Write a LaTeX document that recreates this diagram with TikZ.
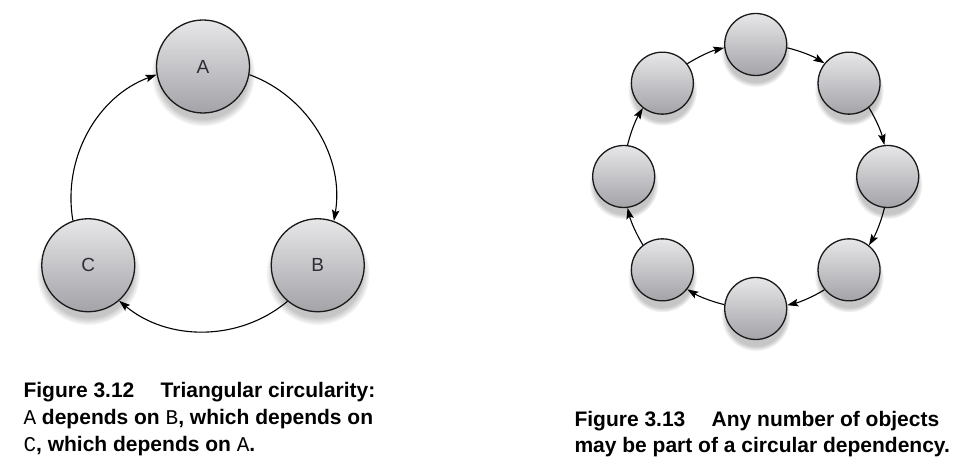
\documentclass[tikz,border=0pt]{standalone}
\usepackage{fontspec}
\setmainfont{Liberation Sans}
\newfontfamily\codefont{Liberation Mono}
\usepackage{tikz}
\usetikzlibrary{arrows.meta,calc,shadows}

\definecolor{balltop}{RGB}{231,231,233}
\definecolor{ballbottom}{RGB}{163,163,168}
\definecolor{balltext}{RGB}{45,45,55}

\tikzset{
  ball/.style={circle,draw=black!90,line width=1.3pt,inner sep=0pt,
    top color=balltop,bottom color=ballbottom,
    circular drop shadow={shadow xshift=0pt,shadow yshift=-7pt,shadow scale=1.12,opacity=.45},
    font=\fontsize{19}{19}\selectfont\color{balltext}},
  bigball/.style={ball,minimum size=93pt},
  smallball/.style={ball,minimum size=62pt},
  caption/.style={anchor=north west,inner sep=0pt,align=left,
    font=\fontsize{21}{26.7}\selectfont\bfseries}
}
\newcommand{\cd}[1]{{\codefont\mdseries #1}}

\begin{document}
\begin{tikzpicture}[x=1pt,y=1pt,->,>={Stealth[length=11pt,width=7.5pt,inset=2pt]},line width=1.1pt,auto]
		\useasboundingbox (0,0) rectangle (971,476);
		% triangular circularity
		\coordinate (L) at (203,277);
		\node[bigball] (A) at ($(L)+(90:132.5)$)  {A};
		\node[bigball] (B) at ($(L)+(-30:132.5)$) {B};
		\node[bigball] (C) at ($(L)+(210:132.5)$) {C};
		\path (A.-10.1)  edge [out=-20.2,in=80.2,looseness=.96]  (B.70.1)
		      (B.-130.1) edge [out=-140.2,in=-39.8,looseness=.96] (C.-49.9)
		      (C.109.9)  edge [out=99.8,in=200.2,looseness=.96]   (A.190.1);
		% any number of objects
		\coordinate (R) at (755.7,299.5);
		\node[smallball] (N) at ($(R)+(90:132)$)  {};
		\node[smallball] (NE) at ($(R)+(45:132)$)  {};
		\node[smallball] (E) at ($(R)+(0:132)$)   {};
		\node[smallball] (SE) at ($(R)+(-45:132)$) {};
		\node[smallball] (S) at ($(R)+(-90:132)$) {};
		\node[smallball] (SW) at ($(R)+(225:132)$) {};
		\node[smallball] (W) at ($(R)+(180:132)$) {};
		\node[smallball] (NW) at ($(R)+(135:132)$) {};
		\path (N.-6.7)    edge [out=-13.5,in=148.5,looseness=.86]  (NE.141.7)
		      (NE.-51.7)  edge [out=-58.5,in=103.5,looseness=.86]  (E.96.7)
		      (E.-96.7)   edge [out=-103.5,in=58.5,looseness=.86]  (SE.51.7)
		      (SE.-141.7) edge [out=-148.5,in=13.5,looseness=.86]  (S.6.7)
		      (S.173.3)   edge [out=166.5,in=-31.5,looseness=.86]  (SW.-38.3)
		      (SW.128.3)  edge [out=121.5,in=-76.5,looseness=.86]  (W.-83.3)
		      (W.83.3)    edge [out=76.5,in=-121.5,looseness=.86]  (NW.-128.3)
		      (NW.38.3)   edge [out=31.5,in=193.5,looseness=.86]   (N.186.7);
		% captions
		\node[caption] (cap12) at (23,94)
		  {Figure 3.12\hspace{1.25em}Triangular circularity:\\
		   \cd{A} depends on \cd{B}, which depends on\\
		   \cd{C}, which depends on \cd{A}.};
		\node[caption] (cap13) at (574,65.6)
		  {Figure 3.13\hspace{1.25em}Any number of objects\\
		   may be part of a circular dependency.};
\end{tikzpicture}
\end{document}
